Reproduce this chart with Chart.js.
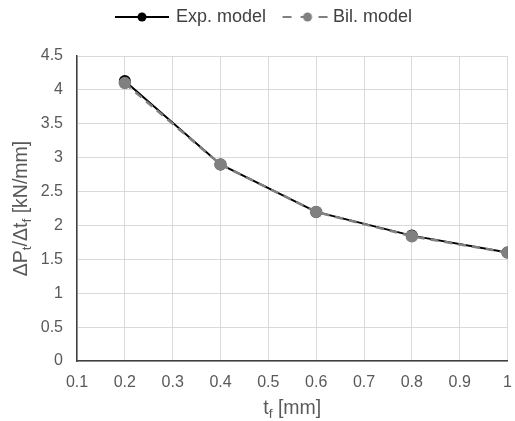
<!DOCTYPE html>
<html>
<head>
<meta charset="utf-8">
<script src="https://cdn.jsdelivr.net/npm/chart.js@4/dist/chart.umd.min.js"></script>
<style>
    html, body { margin: 0; padding: 0; background: #fff; }
    #wrap { width: 515px; height: 421px; }
</style>
</head>
<body>
<div id="wrap"><canvas id="chart"></canvas></div>
<script>
const thickness = [0.2, 0.4, 0.6, 0.8, 1.0]
const expModel = [4.13, 2.9, 2.2, 1.85, 1.6]
const bilModel = [4.1, 2.9, 2.2, 1.84, 1.6]

const font = '"Liberation Sans", Arial, sans-serif'
const textColor = '#595959'

// petite image ligne + point pour la légende
const legendMarker = (color, dashed, offset) => {
    const c = document.createElement('canvas')
    c.width = 54 + offset
    c.height = 12
    const ctx = c.getContext('2d')
    ctx.strokeStyle = color
    ctx.lineWidth = 2
    if (dashed) ctx.setLineDash([9, 9])
    ctx.beginPath()
    ctx.moveTo(offset + (dashed ? 2 : 0), 6)
    ctx.lineTo(offset + 54, 6)
    ctx.stroke()
    ctx.fillStyle = color
    ctx.beginPath()
    ctx.arc(offset + 27, 6, 4.5, 0, Math.PI * 2)
    ctx.fill()
    return c
}
const markers = [legendMarker('#000000', false, 0), legendMarker('#808080', true, 17)]

// texte avec indices (subscripts)
const drawParts = (ctx, parts, x, y, size) => {
    let total = 0
    for (let p of parts) {
        ctx.font = `${p.sub ? size * 0.7 : size}px ${font}`
        total += ctx.measureText(p.t).width
    }
    let cx = x - total / 2
    for (let p of parts) {
        ctx.font = `${p.sub ? size * 0.7 : size}px ${font}`
        ctx.fillText(p.t, cx, y + (p.sub ? size * 0.28 : 0))
        cx += ctx.measureText(p.t).width
    }
}

const axisTitles = {
    id: 'axisTitles',
    afterInit(chart) {
        // hauteur fixe de la légende pour placer la zone de tracé
        const origFit = chart.legend.fit
        chart.legend.fit = function () {
            origFit.call(this)
            this.height = 56
        }
    },
    afterDraw(chart) {
        const ctx = chart.ctx
        const area = chart.chartArea
        ctx.save()
        ctx.fillStyle = textColor
        ctx.textBaseline = 'middle'
        ctx.textAlign = 'left'
        drawParts(ctx, [{t: 't'}, {t: 'f', sub: true}, {t: ' [mm]'}], (area.left + area.right) / 2, 409, 19.5)
        ctx.translate(22, (area.top + area.bottom) / 2)
        ctx.rotate(-Math.PI / 2)
        drawParts(ctx, [{t: 'ΔP'}, {t: 't', sub: true}, {t: '/Δt'}, {t: 'f', sub: true}, {t: ' [kN/mm]'}], 0, 0, 19.5)
        ctx.restore()
    }
}

new Chart(document.getElementById('chart'), {
    type: 'line',
    data: {
        datasets: [{
            label: 'Exp. model',
            data: thickness.map((t, i) => ({x: t, y: expModel[i]})),
            borderColor: '#000000',
            backgroundColor: '#000000',
            borderWidth: 2,
            pointRadius: 5,
            pointHoverRadius: 5,
            order: 2
        }, {
            label: 'Bil. model',
            data: thickness.map((t, i) => ({x: t, y: bilModel[i]})),
            borderColor: '#808080',
            backgroundColor: '#808080',
            borderWidth: 2.5,
            borderDash: [8, 6],
            pointRadius: 5,
            pointHoverRadius: 5,
            order: 1
        }]
    },
    options: {
        responsive: true,
        maintainAspectRatio: false,
        animation: false,
        layout: {padding: {left: 14, right: 0, top: 0, bottom: 0}},
        plugins: {
            legend: {
                position: 'top',
                labels: {
                    usePointStyle: true,
                    pointStyleWidth: 50,
                    color: '#404040',
                    font: {family: font, size: 18},
                    padding: 8,
                    boxHeight: 12,
                    generateLabels: chart => chart.data.datasets.map((ds, i) => ({
                        text: ds.label,
                        datasetIndex: i,
                        pointStyle: markers[i],
                        fillStyle: ds.backgroundColor,
                        strokeStyle: ds.borderColor,
                        lineWidth: 0,
                        fontColor: '#404040',
                        hidden: false
                    }))
                }
            },
            tooltip: {enabled: false}
        },
        scales: {
            x: {
                type: 'linear',
                min: 0.1,
                max: 1,
                afterFit: s => {
                    s.height = 60
                    s.paddingLeft = 0
                    s.paddingRight = 3
                },
                ticks: {
                    stepSize: 0.1,
                    color: textColor,
                    padding: 12,
                    font: {family: font, size: 16},
                    callback: v => String(+v.toFixed(1))
                },
                grid: {color: '#d9d9d9', drawTicks: false},
                border: {color: '#404040', width: 1.5}
            },
            y: {
                min: 0,
                max: 4.5,
                afterFit: s => { s.width = 63 },
                ticks: {
                    stepSize: 0.5,
                    color: textColor,
                    font: {family: font, size: 16},
                    padding: 14,
                    callback: v => String(+v.toFixed(1))
                },
                grid: {color: '#d9d9d9', drawTicks: false},
                border: {color: '#404040', width: 1.5}
            }
        }
    },
    plugins: [axisTitles]
})
</script>
</body>
</html>
